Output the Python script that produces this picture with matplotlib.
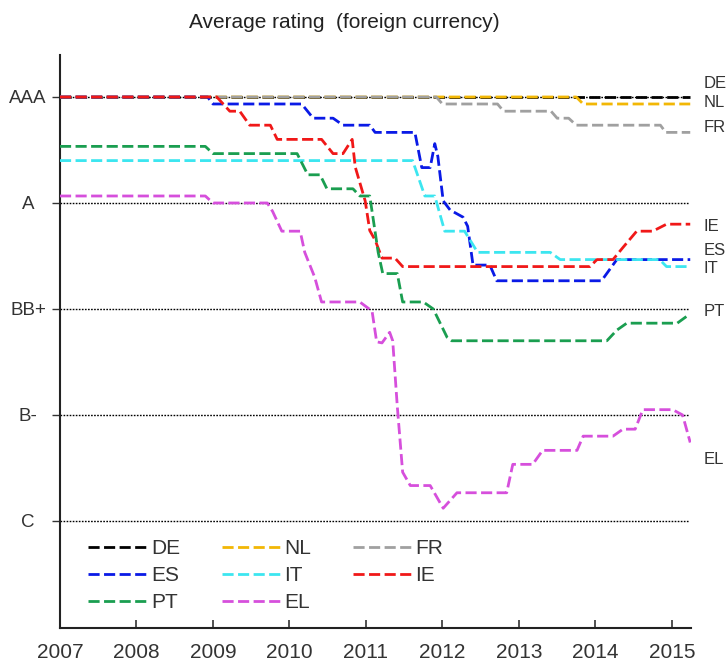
import matplotlib.pyplot as plt

# Rating scale in notches: C=0 ... AAA=20 (5 notches between labelled levels)
RATING_TICKS = [20, 15, 10, 5, 0]
RATING_LABELS = ["AAA", "A", "BB+", "B-", "C"]
YEARS = list(range(2007, 2016))

# ── Data (average of agency ratings) ─────────────────────────────────

de_x = [2007.0, 2015.24]
de_y = [20, 20]

nl_x = [2007.0, 2013.75, 2013.84, 2015.24]
nl_y = [20, 20, 19.67, 19.67]

fr_x = [2007.0, 2011.92, 2012.0, 2012.72, 2012.8, 2013.42, 2013.5, 2013.65,
        2013.75, 2014.85, 2014.92, 2015.24]
fr_y = [20, 20, 19.67, 19.67, 19.33, 19.33, 19.0, 19.0, 18.67, 18.67, 18.33, 18.33]

es_x = [2007.0, 2008.93, 2009.0, 2010.16, 2010.31, 2010.57, 2010.7, 2011.05,
        2011.12, 2011.64, 2011.73, 2011.84, 2011.9, 2011.94, 2012.01, 2012.1,
        2012.27, 2012.33, 2012.4, 2012.62, 2012.71, 2014.08, 2014.28, 2015.24]
es_y = [20, 20, 19.67, 19.67, 19.0, 19.0, 18.67, 18.67, 18.33, 18.33, 16.67,
        16.67, 17.8, 17.2, 15.1, 14.67, 14.33, 13.9, 12.07, 12.07, 11.33, 11.33,
        12.33, 12.33]

it_x = [2007.0, 2011.61, 2011.77, 2011.9, 2012.03, 2012.29, 2012.46, 2013.41,
        2013.54, 2014.84, 2014.93, 2015.24]
it_y = [17, 17, 15.33, 15.33, 13.67, 13.67, 12.67, 12.67, 12.33, 12.33, 12.0, 12.0]

ie_x = [2007.0, 2009.05, 2009.22, 2009.35, 2009.48, 2009.75, 2009.84, 2010.42,
        2010.57, 2010.7, 2010.82, 2010.86, 2010.99, 2011.05, 2011.12, 2011.21,
        2011.38, 2011.48, 2013.93, 2014.02, 2014.23, 2014.36, 2014.54, 2014.75,
        2014.93, 2015.24]
ie_y = [20, 20, 19.33, 19.33, 18.67, 18.67, 18.0, 18.0, 17.33, 17.33, 18.0, 16.7,
        15.1, 13.7, 13.25, 12.4, 12.4, 12.0, 12.0, 12.33, 12.33, 12.9, 13.67,
        13.67, 14.0, 14.0]

pt_x = [2007.0, 2008.9, 2009.0, 2010.1, 2010.24, 2010.4, 2010.49, 2010.83,
        2010.92, 2011.05, 2011.16, 2011.22, 2011.41, 2011.48, 2011.75, 2011.88,
        2012.06, 2012.12, 2014.15, 2014.28, 2014.41, 2015.07, 2015.2]
pt_y = [17.67, 17.67, 17.33, 17.33, 16.33, 16.33, 15.67, 15.67, 15.33, 15.33,
        12.67, 11.67, 11.67, 10.33, 10.33, 10.0, 8.67, 8.5, 8.5, 9.0, 9.33, 9.33,
        9.67]

el_x = [2007.0, 2008.9, 2009.0, 2009.71, 2009.78, 2009.9, 2010.14, 2010.2,
        2010.33, 2010.42, 2010.92, 2011.08, 2011.14, 2011.21, 2011.31, 2011.35,
        2011.41, 2011.48, 2011.58, 2011.84, 2012.01, 2012.19, 2012.84, 2012.92,
        2013.18, 2013.31, 2013.76, 2013.84, 2014.23, 2014.36, 2014.52, 2014.62,
        2015.01, 2015.14, 2015.24]
el_y = [15.33, 15.33, 15.0, 15.0, 14.6, 13.67, 13.67, 12.67, 11.5, 10.33, 10.33,
        9.9, 8.45, 8.4, 8.9, 8.5, 5.4, 2.3, 1.67, 1.67, 0.6, 1.33, 1.33, 2.67,
        2.67, 3.33, 3.33, 4.0, 4.0, 4.33, 4.33, 5.25, 5.25, 5.0, 3.7]

SERIES = [
    ("DE", de_x, de_y, "#000000"),
    ("NL", nl_x, nl_y, "#f2b705"),
    ("FR", fr_x, fr_y, "#a0a0a0"),
    ("ES", es_x, es_y, "#0a1ae6"),
    ("IT", it_x, it_y, "#3ce6f0"),
    ("IE", ie_x, ie_y, "#f01818"),
    ("PT", pt_x, pt_y, "#1a9e50"),
    ("EL", el_x, el_y, "#d64fdc"),
]

# right-hand country labels (value positions of the text)
END_LABEL_Y = {"DE": 20.66, "NL": 19.72, "FR": 18.58, "IE": 13.87,
               "ES": 12.78, "IT": 11.93, "PT": 9.86, "EL": 2.88}

TEXT = "#333333"
plt.rcParams["font.family"] = ["Liberation Sans", "DejaVu Sans"]

fig = plt.figure(figsize=(7.26, 6.68), dpi=100)
ax = fig.add_axes([60 / 726, 1 - 628 / 668, 631 / 726, (628 - 54.6) / 668])

# dotted reference levels
for lvl in RATING_TICKS:
    ax.plot([2007, 2015.22], [lvl, lvl], color="black", lw=1.0,
            linestyle=(0, (1.2, 1.0)), zorder=1)

handles = {}
for name, xs, ys, col in SERIES:
    (h,) = ax.plot(xs, ys, color=col, lw=2.0, linestyle=(0, (4, 1.6)),
                   label=name, zorder=3)
    handles[name] = h
    ax.text(2015.41, END_LABEL_Y[name], name, fontsize=12, color=TEXT,
            va="center", ha="left", clip_on=False)

ax.set_xlim(2007, 2015.25)
ax.set_ylim(-5.05, 22)
ax.set_xticks(YEARS)
ax.set_xticklabels([str(y) for y in YEARS], fontsize=15, color=TEXT)
ax.set_yticks(RATING_TICKS)
ax.set_yticklabels(RATING_LABELS, fontsize=13.5, color=TEXT)
for lab in ax.get_yticklabels():
    lab.set_horizontalalignment("center")

ax.tick_params(axis="x", direction="in", length=6, width=1.2, pad=11,
               color="#333333")
ax.tick_params(axis="y", direction="out", length=6, width=1.0, pad=17,
               color="#333333")

for side in ("top", "right"):
    ax.spines[side].set_visible(False)
for side in ("left", "bottom"):
    ax.spines[side].set_linewidth(1.5)
    ax.spines[side].set_color("#222222")

order = ["DE", "ES", "PT", "NL", "IT", "EL", "FR", "IE"]
leg = ax.legend([handles[n] for n in order], order, ncol=3, frameon=False,
                loc="upper left", bbox_to_anchor=(0.045, 0.155),
                fontsize=15, handlelength=2.9, handletextpad=0.1,
                columnspacing=2.0, labelspacing=0.38, borderpad=0,
                borderaxespad=0)
for t in leg.get_texts():
    t.set_color(TEXT)

fig.text(344 / 726, 1 - 23 / 668, "Average rating  (foreign currency)",
         ha="center", va="center", fontsize=15, color="#222222")

fig.savefig("out.png", dpi=100)
